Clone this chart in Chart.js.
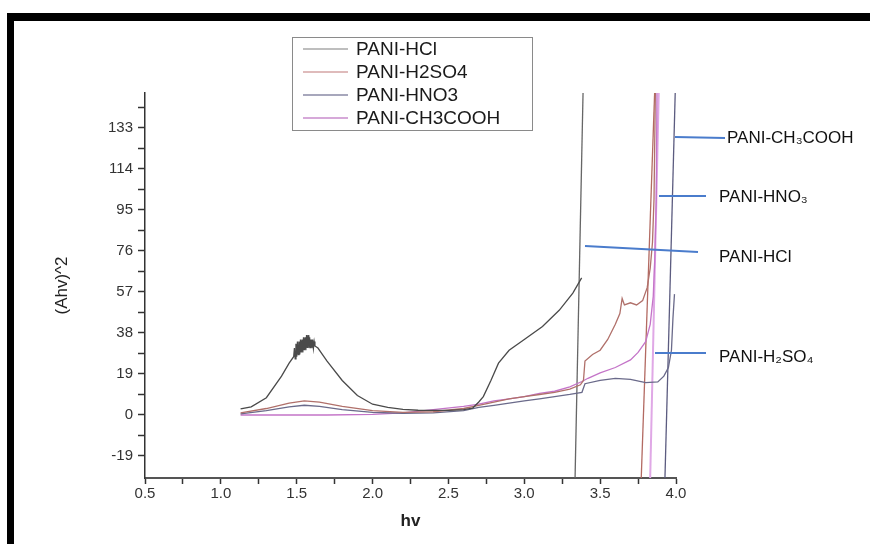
<!DOCTYPE html>
<html>
<head>
<meta charset="utf-8">
<script src="https://cdn.jsdelivr.net/npm/chart.js@4.4.1/dist/chart.umd.min.js"></script>
<style>
  html, body { margin: 0; padding: 0; background: #fff; }
  #wrap { position: relative; width: 870px; height: 544px; overflow: hidden; background: #fff; }
  #frame { position: absolute; left: 7px; top: 13px; width: 870px; height: 540px;
           border-top: 8px solid #000; border-left: 7px solid #000; pointer-events: none; }
</style>
</head>
<body>
<div id="wrap">
  <canvas id="c" width="870" height="544"></canvas>
  <div id="frame"></div>
</div>
<script>
// ---- data ----
const seriesNames = ['PANI-HCl', 'PANI-H2SO4', 'PANI-HNO3', 'PANI-CH3COOH'];

const hclX = [1.13, 1.2, 1.3, 1.4, 1.45, 1.48, 1.485, 1.49, 1.495, 1.50, 1.505, 1.51, 1.515, 1.52, 1.525, 1.53, 1.535, 1.54, 1.545, 1.55, 1.555, 1.56, 1.565, 1.57, 1.575, 1.58, 1.585, 1.59, 1.595, 1.60, 1.605, 1.61, 1.615, 1.62, 1.64, 1.67, 1.7, 1.8, 1.9, 2.0, 2.1, 2.2, 2.3, 2.4, 2.5, 2.6, 2.66, 2.7, 2.73, 2.78, 2.83, 2.9, 3.0, 3.12, 3.23, 3.32, 3.378];
const hclY = [2.8, 3.8, 8, 18, 24, 27, 31, 26, 33, 27, 34, 28, 34, 28, 35, 29, 35, 29, 36, 30, 36, 30, 37, 31, 37, 31, 36, 31, 35, 31, 35, 31, 34, 32, 31, 28, 25, 16, 9, 5, 3.5, 2.6, 2.2, 2.1, 2.1, 2.5, 3.2, 6, 8.5, 16, 24, 30, 35, 41, 48.5, 56.5, 63.5];

const h2so4X = [1.13, 1.3, 1.45, 1.55, 1.65, 1.8, 2.0, 2.2, 2.4, 2.6, 2.7, 2.8, 2.9, 3.0, 3.1, 3.2, 3.3, 3.37, 3.39, 3.40, 3.45, 3.5, 3.55, 3.6, 3.63, 3.645, 3.66, 3.7, 3.74, 3.78, 3.81, 3.83, 3.845, 3.855, 3.865];
const h2so4Y = [1.0, 3, 5.5, 6.5, 6, 4, 2, 1.2, 1.5, 3, 4.5, 6, 7.5, 8.5, 9.5, 10.5, 12, 14, 16, 25, 28, 30, 35, 42, 47, 54, 51, 52, 51, 53, 59, 68, 80, 100, 155];

const hno3X = [1.13, 1.3, 1.45, 1.55, 1.65, 1.8, 2.0, 2.2, 2.4, 2.6, 2.7, 2.8, 2.9, 3.0, 3.1, 3.2, 3.3, 3.38, 3.40, 3.5, 3.6, 3.7, 3.8, 3.88, 3.92, 3.95, 3.97, 3.98, 3.99];
const hno3Y = [0.5, 2, 3.8, 4.5, 4, 2.5, 1.2, 0.8, 1, 2, 3.5, 4.5, 5.5, 6.5, 7.5, 8.5, 9.5, 10.5, 14.5, 16, 17, 16.5, 15, 15.3, 18, 22, 30, 45, 56];

const ch3coohX = [1.13, 1.4, 1.7, 2.0, 2.2, 2.4, 2.6, 2.7, 2.8, 2.9, 3.0, 3.1, 3.2, 3.3, 3.38, 3.42, 3.5, 3.6, 3.7, 3.75, 3.8, 3.83, 3.85, 3.86, 3.87, 3.875];
const ch3coohY = [0, 0, 0, 0.3, 1, 2.5, 4, 5, 6.5, 7.5, 8.5, 10, 11, 13, 15.5, 17, 19.5, 22, 25.5, 29, 34, 42, 55, 72, 100, 155];

// straight extrapolation lines (Tauc fits), drawn from below to above the plot
const hclFitX = [3.333, 3.389];     const hclFitY = [-35, 155];
const h2so4FitX = [3.768, 3.862];   const h2so4FitY = [-35, 155];
const ch3coohFitX = [3.828, 3.888]; const ch3coohFitY = [-35, 155];
const hno3FitX = [3.925, 3.997];    const hno3FitY = [-35, 155];

const yMajorTicks = [-19, 0, 19, 38, 57, 76, 95, 114, 133];
const yMinorTicks = [-9.5, 9.5, 28.5, 47.5, 66.5, 85.5, 104.5, 123.5, 142.5];
const xMajorTicks = [0.5, 1.0, 1.5, 2.0, 2.5, 3.0, 3.5, 4.0];
const xMinorTicks = [0.75, 1.25, 1.75, 2.25, 2.75, 3.25, 3.75];

const annotationLabels = ['PANI-CH\u2083COOH', 'PANI-HNO\u2083', 'PANI-HCl', 'PANI-H\u2082SO\u2084'];

// ---- styling ----
const curveColors = ['#4a4a4a', '#b0706a', '#6a6a8a', '#c474c8'];
const legendColors = ['#a8a8a8', '#d4a4a4', '#8a8aa6', '#c88ccc'];
const fitColors = ['#666666', '#b36a62', '#5c5c80', '#e0a8e6'];

function pts(xs, ys) { return xs.map((x, i) => ({ x: x, y: ys[i] })); }

const curveSets = [[hclX, hclY], [h2so4X, h2so4Y], [hno3X, hno3Y], [ch3coohX, ch3coohY]];
const fitSets = [[hclFitX, hclFitY], [h2so4FitX, h2so4FitY], [hno3FitX, hno3FitY], [ch3coohFitX, ch3coohFitY]];

const datasets = [];
curveSets.forEach((s, i) => {
  datasets.push({ label: seriesNames[i], data: pts(s[0], s[1]), borderColor: curveColors[i],
    borderWidth: 1.3, showLine: true, pointRadius: 0, fill: false, tension: 0 });
});
fitSets.forEach((s, i) => {
  datasets.push({ label: seriesNames[i] + ' fit', data: pts(s[0], s[1]), borderColor: fitColors[i],
    borderWidth: i === 3 ? 2 : 1.3, showLine: true, pointRadius: 0, fill: false, tension: 0 });
});

const FONT = "'Liberation Sans', Arial, sans-serif";

const overlayPlugin = {
  id: 'overlay',
  afterDraw(chart) {
    const ctx = chart.ctx;
    ctx.save();
    // legend box
    ctx.strokeStyle = '#8a8a8a';
    ctx.lineWidth = 1;
    ctx.strokeRect(292.5, 37.5, 240, 93);
    const rowY = [49, 72, 95, 118];
    ctx.font = '19px ' + FONT;
    ctx.textBaseline = 'middle';
    ctx.textAlign = 'left';
    for (let i = 0; i < 4; i++) {
      ctx.strokeStyle = legendColors[i];
      ctx.lineWidth = 1.6;
      ctx.beginPath(); ctx.moveTo(303, rowY[i]); ctx.lineTo(348, rowY[i]); ctx.stroke();
      ctx.fillStyle = '#1a1a1a';
      ctx.fillText(seriesNames[i], 356, rowY[i] + 1);
    }
    // annotation pointers
    const lines = [[675, 137, 725, 138], [659, 196, 706, 196], [585, 246, 698, 252], [655, 353, 706, 353]];
    const texts = [[727, 138], [719, 197], [719, 257], [719, 357]];
    ctx.strokeStyle = '#4a7ccc';
    ctx.lineWidth = 2;
    lines.forEach(l => { ctx.beginPath(); ctx.moveTo(l[0], l[1]); ctx.lineTo(l[2], l[3]); ctx.stroke(); });
    ctx.fillStyle = '#111';
    ctx.font = '17px ' + FONT;
    texts.forEach((t, i) => ctx.fillText(annotationLabels[i], t[0], t[1]));
    ctx.restore();
  }
};

new Chart(document.getElementById('c'), {
  type: 'scatter',
  data: { datasets: datasets },
  options: {
    responsive: false,
    animation: false,
    layout: { padding: { left: 50, right: 194, top: 93, bottom: 8 } },
    plugins: { legend: { display: false }, tooltip: { enabled: false } },
    scales: {
      x: {
        type: 'linear', min: 0.5, max: 4.0,
        afterFit(scale) { scale.height = 58; },
        afterBuildTicks(scale) {
          scale.ticks = xMajorTicks.concat(xMinorTicks).sort((a, b) => a - b).map(v => ({ value: v }));
        },
        ticks: {
          autoSkip: false, maxRotation: 0, padding: 1, color: '#333',
          font: { family: FONT, size: 15 },
          callback: v => (xMajorTicks.includes(v) ? v.toFixed(1) : '')
        },
        grid: { drawOnChartArea: false, tickLength: 6, tickColor: '#333', tickWidth: 1.5 },
        border: { color: '#555', width: 2 },
        title: { display: true, text: 'hv', color: '#222', font: { family: FONT, size: 17, weight: 'bold' }, padding: { top: 4, bottom: 4 } }
      },
      y: {
        type: 'linear', min: -29.2, max: 149.2,
        afterFit(scale) { scale.width = 95; },
        afterBuildTicks(scale) {
          scale.ticks = yMajorTicks.concat(yMinorTicks).sort((a, b) => a - b).map(v => ({ value: v }));
        },
        ticks: {
          autoSkip: false, padding: 5, color: '#333',
          font: { family: FONT, size: 15 },
          callback: v => (yMajorTicks.includes(v) ? String(v) : '')
        },
        grid: { drawOnChartArea: false, tickLength: 7, tickColor: '#333', tickWidth: 1.5 },
        border: { color: '#333', width: 1.5 },
        title: { display: true, text: '(Ahv)^2', color: '#222', font: { family: FONT, size: 17 }, padding: { top: 2, bottom: 4 } }
      }
    }
  },
  plugins: [overlayPlugin]
});
</script>
</body>
</html>
